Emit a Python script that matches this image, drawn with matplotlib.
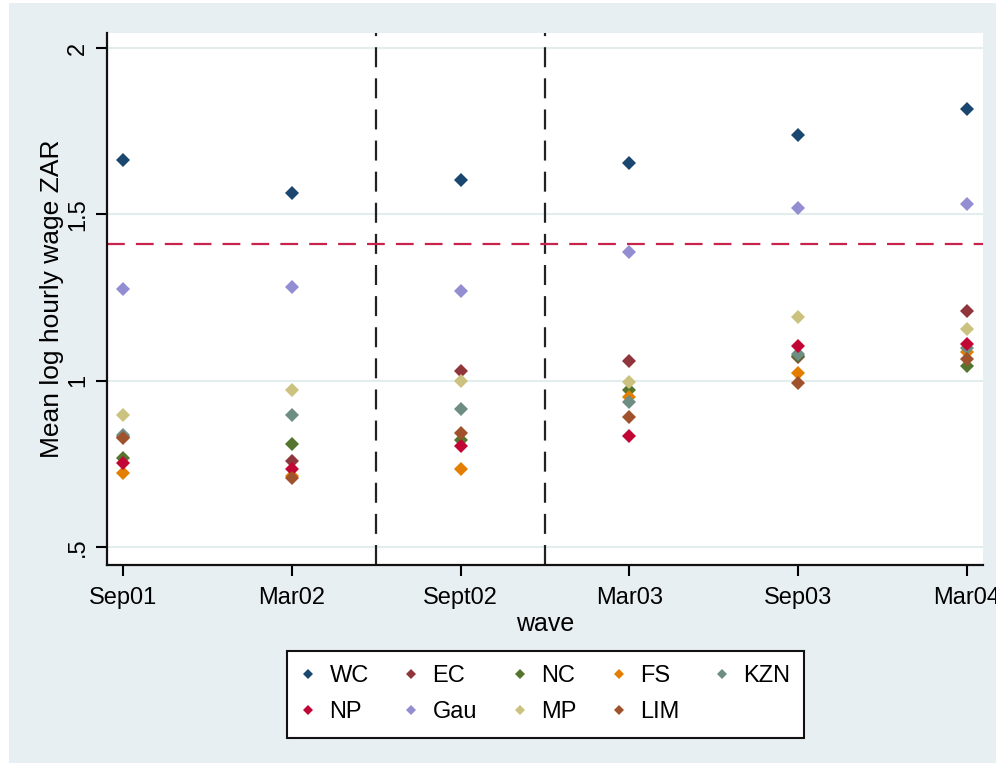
import numpy as np
import matplotlib
matplotlib.use("Agg")
from matplotlib import pyplot as plt
from matplotlib.lines import Line2D

waves = ["Sep01", "Mar02", "Sept02", "Mar03", "Sep03", "Mar04"]
provinces = ["WC", "EC", "NC", "FS", "KZN", "NP", "Gau", "MP", "LIM"]
colors = ["#1a476f", "#90353b", "#55752f", "#e37e00", "#6e8e84",
          "#c10534", "#938dd2", "#cac27e", "#a0522d"]

# mean log hourly wage per province, one value per wave
wc = [1.663, 1.565, 1.604, 1.653, 1.738, 1.818]
ec = [0.832, 0.759, 1.030, 1.058, 1.070, 1.209]
nc = [0.768, 0.809, 0.822, 0.972, 1.075, 1.043]
fs = [0.723, 0.714, 0.734, 0.950, 1.023, 1.085]
kzn = [0.836, 0.897, 0.914, 0.937, 1.080, 1.097]
np_ = [0.754, 0.736, 0.804, 0.834, 1.103, 1.111]
gau = [1.277, 1.283, 1.271, 1.386, 1.519, 1.530]
mp = [0.898, 0.972, 1.000, 0.997, 1.190, 1.156]
lim = [0.827, 0.706, 0.844, 0.892, 0.993, 1.065]
series = [wc, ec, nc, fs, kzn, np_, gau, mp, lim]

ref_line = 1.41
breaks = [2.5, 3.5]
yticks = [0.5, 1, 1.5, 2]
ylabels = [".5", "1", "1.5", "2"]

plt.rcParams['font.family'] = ['Liberation Sans', 'DejaVu Sans']

fig = plt.figure(figsize=(9.96, 7.65), dpi=100)
fig.patch.set_facecolor("white")
# stata-style graph region
bg = fig.add_axes([9 / 996, 2 / 765, 987 / 996, 760 / 765], zorder=-5)
bg.set_facecolor("#e8eff2")
bg.set_xticks([])
bg.set_yticks([])
for s in bg.spines.values():
    s.set_visible(False)

ax = fig.add_axes([107 / 996, 200 / 765, 876 / 996, 532 / 765])
ax.set_facecolor("white")

x = np.arange(1, len(waves) + 1)
for name, vals, c in zip(provinces, series, colors):
    ax.plot(x, vals, linestyle="none", marker="D", markersize=7,
            color=c, markeredgewidth=0, label=name, zorder=3)

for b in breaks:
    ax.axvline(b, color="#222222", lw=1.6, dashes=(9, 5), zorder=2)
ax.axhline(ref_line, color="#c8234c", lw=1.6, dashes=(8, 5), zorder=2)

ax.set_xlim(0.905, 6.095)
ax.set_ylim(0.446, 2.045)
ax.set_xticks(x)
ax.set_xticklabels(waves, fontsize=17)
ax.set_yticks(yticks)
ax.set_yticklabels(ylabels, fontsize=17, rotation=90, va="center")
ax.grid(axis="y", color="#e4eded", lw=1.5, zorder=1)
ax.set_axisbelow(True)

for s in ["top", "right"]:
    ax.spines[s].set_visible(False)
for s in ["left", "bottom"]:
    ax.spines[s].set_linewidth(1.6)
    ax.spines[s].set_color("#111111")
ax.tick_params(axis="x", direction="out", length=8, width=1.5, pad=8)
ax.tick_params(axis="y", direction="out", length=8, width=1.5, pad=5)

ax.set_xlabel("wave", fontsize=18, labelpad=2)
ax.set_ylabel("Mean log hourly wage ZAR", fontsize=19, labelpad=2)

# legend filled row-wise like stata: reorder for matplotlib's column fill
order = [0, 5, 1, 6, 2, 7, 3, 8, 4]
handles = [Line2D([], [], linestyle="none", marker="D", markersize=5.5,
                  color=colors[i], markeredgewidth=0) for i in order]
labels = [provinces[i] for i in order]
leg = fig.legend(handles, labels, ncol=5, loc="upper left",
                 bbox_to_anchor=(287 / 996, 1 - 651 / 765), borderaxespad=0,
                 fontsize=17, frameon=True, fancybox=False, framealpha=1,
                 handlelength=0.6, handletextpad=0.6, columnspacing=1.5,
                 borderpad=0.6, labelspacing=0.6)
leg.get_frame().set_edgecolor("#111111")
leg.get_frame().set_facecolor("white")
leg.get_frame().set_linewidth(1.5)

fig.savefig("out.png", dpi=100, facecolor=fig.get_facecolor())
